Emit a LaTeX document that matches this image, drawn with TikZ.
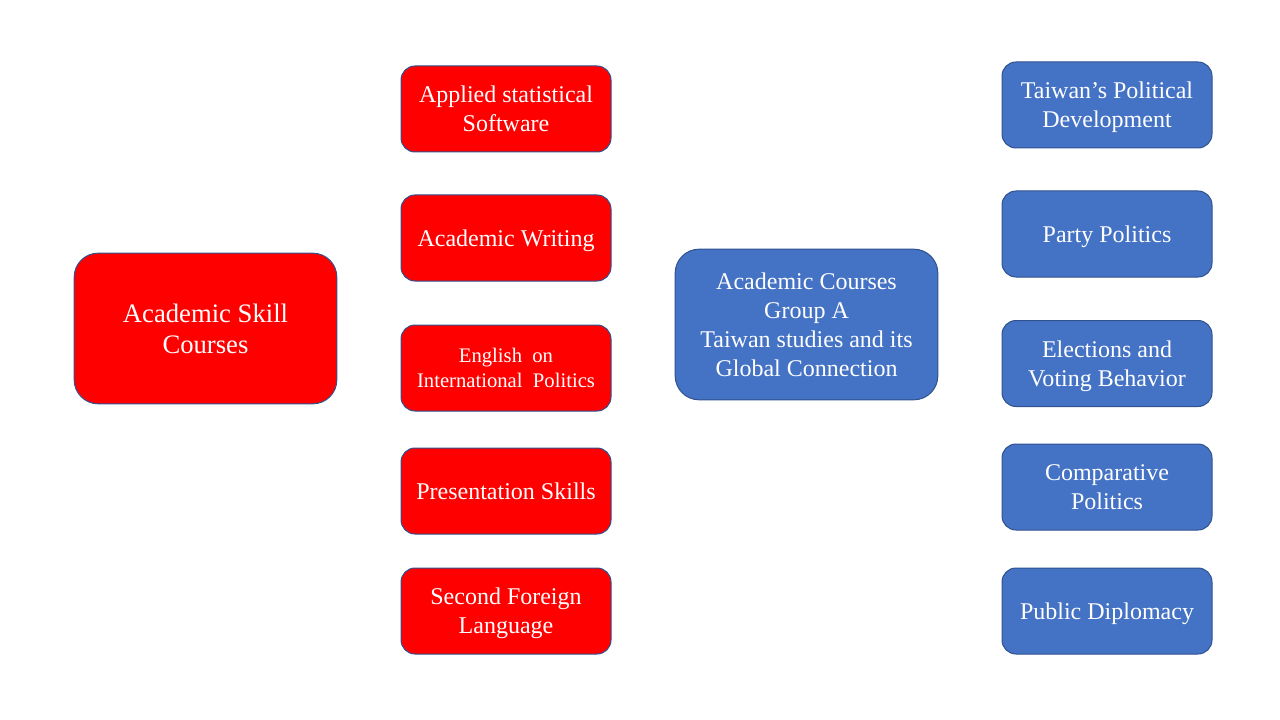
\documentclass[tikz,border=0pt]{standalone}
\usepackage{fontspec}
\setmainfont{Liberation Serif}
\usetikzlibrary{positioning}

\definecolor{boxred}{HTML}{FF0000}
\definecolor{boxblue}{HTML}{4472C4}
\definecolor{boxline}{HTML}{2F528F}

\begin{document}
\begin{tikzpicture}
[x=0.75pt,y=-0.75pt,
 course/.style={shape=rectangle,draw=boxline,line width=0.75pt,text=white,
   align=center,rounded corners=10.5pt,minimum width=157.5pt,minimum height=64.5pt,
   inner sep=0pt,text depth=0pt,font=\fontsize{18}{21.75}\selectfont},
 big/.style={rounded corners=18pt,minimum width=197pt,minimum height=113pt},
 skill/.style={course,fill=boxred},
 area/.style={course,fill=boxblue}]

\useasboundingbox (0,0) rectangle (1280,720);

\node (skills) [skill,big,font=\fontsize{20}{23.25}\selectfont] at (205.5,328.5) {Academic Skill\\Courses};

\node (stats) [skill] at (506,109) {Applied statistical\\Software};
\node (writing) [skill] at (506,238) {Academic Writing};
\node (english) [skill,font=\fontsize{15.5}{18.75}\selectfont] at (506,368) {English\ \ on\\International\ \ Politics};
\node (present) [skill] at (506,491) {Presentation Skills};
\node (foreign) [skill] at (506,611) {Second Foreign\\Language};

\node (groupA) [area,big] at (806.5,324.5) {Academic Courses\\Group A\\Taiwan studies and its\\Global Connection};

\node (develop) [area] at (1107,105) {Taiwan’s Political\\Development};
\node (party) [area] at (1107,234) {Party Politics};
\node (voting) [area] at (1107,363.5) {Elections and\\Voting Behavior};
\node (compare) [area] at (1107,487) {Comparative\\Politics};
\node (diplomacy) [area] at (1107,611) {Public Diplomacy};

\end{tikzpicture}
\end{document}
